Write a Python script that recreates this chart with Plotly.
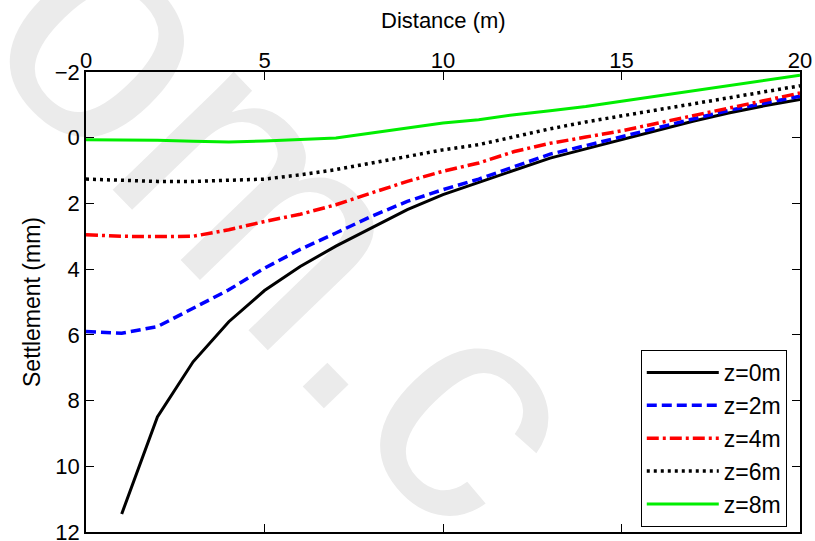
import plotly.graph_objects as go

distance = list(range(0, 21))
distance_z0 = list(range(1, 21))

z0 = [11.45, 8.5, 6.82, 5.6, 4.65, 3.92, 3.3, 2.75, 2.19, 1.73, 1.36, 0.97,
      0.62, 0.34, 0.06, -0.22, -0.5, -0.75, -0.97, -1.16]
z2 = [5.9, 5.95, 5.75, 5.18, 4.63, 3.97, 3.4, 2.9, 2.39, 1.94, 1.58, 1.26,
      0.87, 0.5, 0.24, -0.02, -0.3, -0.57, -0.83, -1.05, -1.26]
z4 = [2.95, 3.0, 3.01, 3.0, 2.8, 2.55, 2.33, 2.04, 1.68, 1.33, 1.02, 0.77,
      0.42, 0.17, -0.02, -0.21, -0.44, -0.67, -0.9, -1.13, -1.36]
z6 = [1.26, 1.3, 1.33, 1.33, 1.3, 1.26, 1.13, 0.97, 0.77, 0.57, 0.37, 0.21,
      -0.04, -0.27, -0.48, -0.66, -0.85, -1.03, -1.21, -1.4, -1.58]
z8 = [0.06, 0.06, 0.08, 0.11, 0.13, 0.1, 0.06, 0.01, -0.14, -0.29, -0.45, -0.55,
      -0.70, -0.82, -0.95, -1.11, -1.27, -1.43, -1.58, -1.74, -1.9]

names = ["z=0m", "z=2m", "z=4m", "z=6m", "z=8m"]
xticks = [0, 5, 10, 15, 20]
yticks = [-2, 0, 2, 4, 6, 8, 10, 12]
x_title = "Distance (m)"
y_title = "Settlement (mm)"

FONT = "Liberation Sans, Arial, sans-serif"

fig = go.Figure()
series = [
    (distance_z0, z0, "black", "solid", 3),
    (distance, z2, "#0000ff", "10px,5px", 3.5),
    (distance, z4, "#ff0000", "12px,4px,3px,4px", 3.5),
    (distance, z6, "black", "3px,4px", 3.5),
    (distance, z8, "#00ee00", "solid", 3),
]
for i, (xs, ys, col, dash, w) in enumerate(series):
    fig.add_trace(go.Scatter(x=xs, y=ys, mode="lines", name=names[i],
                             legendgroup=names[i],
                             line=dict(color=col, dash=dash, width=w)))

fig.update_layout(
    width=815, height=541,
    margin=dict(l=86, r=15, t=72, b=9),
    paper_bgcolor="white", plot_bgcolor="white",
    font=dict(family=FONT, size=22, color="black"),
    showlegend=True,
    legend=dict(x=0.777, y=0.011, xanchor="left", yanchor="bottom",
                bordercolor="black", borderwidth=1, bgcolor="white",
                font=dict(size=23), itemwidth=72,
                traceorder="grouped", tracegroupgap=0),
    xaxis=dict(range=[0, 20], side="top", tickvals=xticks, automargin=False,
               ticks="inside", ticklen=8, tickwidth=1, tickcolor="black",
               ticklabelstandoff=-7, ticklabeloverflow="allow",
               showline=True, linecolor="black", linewidth=1.5, mirror="ticks",
               showgrid=False, zeroline=False),
    yaxis=dict(range=[12, -2], tickvals=yticks, automargin=False,
               ticks="inside", ticklen=8, tickwidth=1, tickcolor="black",
               ticklabeloverflow="allow",
               showline=True, linecolor="black", linewidth=1.5, mirror="ticks",
               showgrid=False, zeroline=False,
               title=dict(text=y_title, standoff=8, font=dict(size=23))),
    annotations=[dict(text=x_title, xref="paper", yref="paper", x=0.5, y=1.113,
                      xanchor="center", yanchor="middle", showarrow=False,
                      font=dict(size=22))],
    shapes=[dict(type="rect", xref="paper", yref="paper",
                 x0=0.317, x1=0.327, y0=0.723, y1=0.733, layer="below",
                 line=dict(width=0), fillcolor="rgba(0,0,0,0)",
                 label=dict(text="om.c", textangle=46,
                            font=dict(size=320, color="#ebebeb", family=FONT)))],
)

fig.write_html("out.html")
